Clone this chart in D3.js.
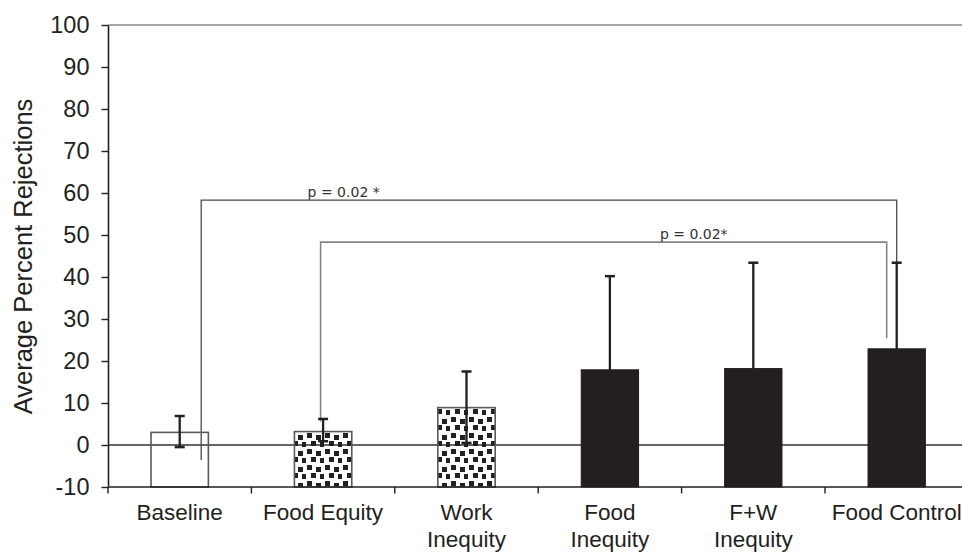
<!DOCTYPE html>
<html>
<head>
<meta charset="utf-8">
<script src="https://cdn.jsdelivr.net/npm/d3@7"></script>
<style>
  html, body { margin: 0; padding: 0; background: #fff; }
  svg { display: block; }
</style>
</head>
<body>
<svg id="chart" width="962" height="552"></svg>
<script>
// ---- data ----
const categories = ["Baseline", "Food Equity", "Work Inequity", "Food Inequity", "F+W Inequity", "Food Control"];
const categoryLabelLines = [["Baseline"], ["Food Equity"], ["Work", "Inequity"], ["Food", "Inequity"], ["F+W", "Inequity"], ["Food Control"]];
const meanValues = [3.0, 3.2, 8.9, 17.9, 18.2, 22.9];
const errorUpper = [6.9, 6.2, 17.5, 40.2, 43.4, 43.4];
const errorLower = [-0.5, 0.9, 0.5, -4.4, -7.0, 2.4];
const fillKinds = ["open", "dots", "dots", "solid", "solid", "solid"];
const yTickValues = [-10, 0, 10, 20, 30, 40, 50, 60, 70, 80, 90, 100];
const yTitle = "Average Percent Rejections";
const comparisonLabels = ["p = 0.02 *", "p = 0.02*"];
const comparisonFrom = ["Baseline", "Food Equity"];
const comparisonTo = ["Food Control", "Food Control"];
const comparisonLevel = [58.3, 48.3];
const comparisonLeftEnd = [-3.6, 5.6];
const comparisonRightEnd = [43.4, 25.4];

(function () {
// ---- scales ----
const svg = d3.select("#chart");
const pLeft = 108, pRight = 968.4, pTop = 25, pBottom = 487;
const x = d3.scaleBand().domain(categories).range([pLeft, pRight]).paddingInner(0.6).paddingOuter(0.3);
const y = d3.scaleLinear().domain([-10, 100]).range([pBottom, pTop]);
const xc = c => x(c) + x.bandwidth() / 2;
const dark = "#231f20";

// pattern
const defs = svg.append("defs");
const pat = defs.append("pattern").attr("id", "dots").attr("patternUnits", "userSpaceOnUse")
  .attr("width", 18).attr("height", 16);
[[1, 1], [10, 3], [5, 9], [14, 10]].forEach(([px, py]) => {
  pat.append("rect").attr("x", px).attr("y", py).attr("width", 5).attr("height", 5).attr("fill", dark);
});

// frame top line
svg.append("line").attr("x1", pLeft).attr("x2", 962).attr("y1", y(100)).attr("y2", y(100))
  .attr("stroke", "#8a8a8a").attr("stroke-width", 1.5);

// zero line (under bars)
svg.append("line").attr("x1", pLeft).attr("x2", 962).attr("y1", y(0)).attr("y2", y(0))
  .attr("stroke", "#333").attr("stroke-width", 1.6);

// comparison brackets
comparisonLabels.forEach((lab, i) => {
  const bl = i === 0 ? xc(comparisonFrom[i]) + 21.5 : xc(comparisonFrom[i]) - 2.5;
  const br = i === 0 ? xc(comparisonTo[i]) : xc(comparisonTo[i]) - 10;
  const col = i === 0 ? "#4a4a4a" : "#858585";
  const sw = i === 0 ? 1.3 : 1.6;
  svg.append("path")
    .attr("d", `M${bl},${y(comparisonLeftEnd[i])}V${y(comparisonLevel[i])}H${br}V${y(comparisonRightEnd[i])}`)
    .attr("fill", "none").attr("stroke", col).attr("stroke-width", sw);
  const tx = i === 0 ? xc("Food Equity") - 15.5 : xc("Food Inequity") + 50;
  svg.append("text").attr("x", tx).attr("y", y(comparisonLevel[i]) - 3.5)
    .attr("font-family", "DejaVu Sans").attr("font-size", 14).attr("fill", "#333").text(lab);
});

// bars
const rows = categories.map((c, i) => ({ c, m: meanValues[i], hi: errorUpper[i], lo: errorLower[i], k: fillKinds[i] }));
svg.selectAll("rect.bar").data(rows).join("rect").attr("class", "bar")
  .attr("x", d => x(d.c)).attr("width", x.bandwidth())
  .attr("y", d => y(d.m)).attr("height", d => y(-10) - y(d.m))
  .attr("fill", d => d.k === "open" ? "none" : d.k === "dots" ? "url(#dots)" : dark)
  .attr("stroke", d => d.k === "solid" ? dark : "#5a5a5a")
  .attr("stroke-width", d => d.k === "solid" ? 1 : 1.6);

// error bars
const eb = svg.selectAll("g.err").data(rows).join("g").attr("class", "err");
eb.append("line").attr("x1", d => xc(d.c)).attr("x2", d => xc(d.c))
  .attr("y1", d => y(d.lo)).attr("y2", d => y(d.hi)).attr("stroke", dark).attr("stroke-width", 2.3);
eb.append("line").attr("x1", d => xc(d.c) - 5).attr("x2", d => xc(d.c) + 5)
  .attr("y1", d => y(d.hi)).attr("y2", d => y(d.hi)).attr("stroke", dark).attr("stroke-width", 2.5);
eb.append("line").attr("x1", d => xc(d.c) - 5).attr("x2", d => xc(d.c) + 5)
  .attr("y1", d => y(d.lo)).attr("y2", d => y(d.lo)).attr("stroke", dark).attr("stroke-width", 2.5);

// y axis
const yAxis = svg.append("g").attr("transform", `translate(${pLeft},0)`)
  .call(d3.axisLeft(y).tickValues(yTickValues).tickFormat(d => String(d))
    .tickSize(6.5).tickPadding(12).tickSizeOuter(0));
yAxis.select(".domain").attr("stroke", dark).attr("stroke-width", 1.6);
yAxis.selectAll(".tick line").attr("stroke", dark).attr("stroke-width", 1.4);
yAxis.selectAll(".tick text").attr("font-family", "Liberation Sans, Arial, sans-serif")
  .attr("font-size", 23.5).attr("fill", dark);

// x axis
svg.append("line").attr("x1", pLeft).attr("x2", 962).attr("y1", pBottom).attr("y2", pBottom)
  .attr("stroke", dark).attr("stroke-width", 1.6);
const tickPos = d3.range(categories.length + 1).map(i => pLeft + i * x.step());
svg.selectAll("line.xt").data(tickPos).join("line").attr("class", "xt")
  .attr("x1", d => d).attr("x2", d => d).attr("y1", pBottom).attr("y2", pBottom + 6.5)
  .attr("stroke", dark).attr("stroke-width", 1.4);

const xLabels = svg.selectAll("text.xl").data(categories).join("text").attr("class", "xl")
  .attr("x", d => xc(d)).attr("y", 520).attr("text-anchor", "middle")
  .attr("font-family", "Liberation Sans, Arial, sans-serif").attr("font-size", 22.5).attr("fill", dark);
xLabels.each(function (d, i) {
  categoryLabelLines[i].forEach((line, j) => {
    d3.select(this).append("tspan").attr("x", xc(d)).attr("dy", j === 0 ? 0 : 26.5).text(line);
  });
});

// y title
svg.append("text").attr("transform", `translate(31.5,${(95 + 418) / 2}) rotate(-90)`)
  .attr("text-anchor", "middle").attr("font-family", "Liberation Sans, Arial, sans-serif")
  .attr("font-size", 25.5).attr("fill", dark).text(yTitle);
})();
</script>
</body>
</html>
